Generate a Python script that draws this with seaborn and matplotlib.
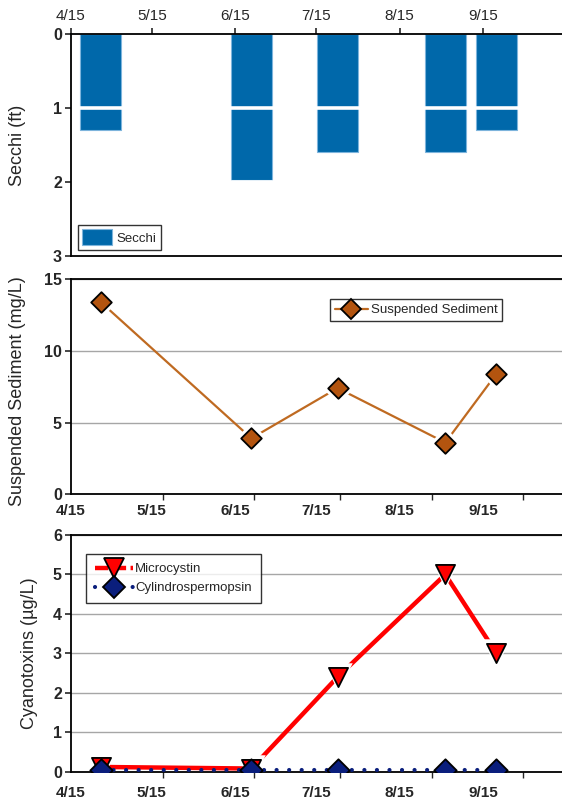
import matplotlib
matplotlib.use("Agg")
import matplotlib.pyplot as plt
from matplotlib.lines import Line2D
import seaborn as sns
import pandas as pd

# ---- data ----
sample_dates = ["4/26", "6/21", "7/23", "9/1", "9/20"]
secchi_ft = [1.3, 1.97, 1.6, 1.6, 1.3]
suspended_sediment = [13.4, 3.9, 7.4, 3.6, 8.4]
microcystin = [0.12, 0.08, 2.4, 5.0, 3.0]
cylindrospermopsin = [0.05, 0.05, 0.05, 0.05, 0.05]
month_ticks = ["4/15", "5/15", "6/15", "7/15", "8/15", "9/15"]
offset_ticks = ["5/19", "6/22", "7/24", "8/27", "9/30"]
x_start, x_end = "4/15", "10/15"
secchi_ticks = [0, 1, 2, 3]
secchi_grid = [1, 2]
sediment_ticks = [0, 5, 10, 15]
toxin_ticks = [0, 1, 2, 3, 4, 5, 6]


def to_day(s):
    d = pd.to_datetime(f"2014/{s}", format="%Y/%m/%d")
    return (d - pd.Timestamp("2014-04-15")).days


days = [to_day(s) for s in sample_dates]
major_days = [to_day(s) for s in month_ticks]
minor_days = [to_day(s) for s in offset_ticks]
x0, x1 = to_day(x_start), to_day(x_end)

df = pd.DataFrame({"day": days, "secchi": secchi_ft, "sed": suspended_sediment,
                   "micro": microcystin, "cyl": cylindrospermopsin})

sns.set_theme(style="ticks")
plt.rcParams["font.family"] = ["Liberation Sans", "DejaVu Sans"]
plt.rcParams["axes.linewidth"] = 1.2

fig = plt.figure(figsize=(5.62, 8.02), dpi=100)
L, W = 0.1263, 0.8769
ax1 = fig.add_axes([L, 0.6808, W, 0.2768])
ax2 = fig.add_axes([L, 0.3837, W, 0.2684])
ax3 = fig.add_axes([L, 0.0378, W, 0.2951])

bar_color = "#0068AA"
brown_line = "#BF6A21"
brown_fill = "#B3540F"
navy = "#0A1E7C"
red = "#FF0000"
label_fs = 13
tick_fs = 11
leg_fs = 9.5
dot_style = (0, (0.01, 3.0))

# ---- Panel 1: Secchi ----
sns.barplot(data=df, x="day", y="secchi", native_scale=True, color=bar_color,
            width=15 / 19, edgecolor="#7DB4DC", linewidth=0.8, saturation=1,
            label="Secchi", ax=ax1)
ax1.set_xlim(x0, x1)
ax1.set_ylim(3, 0)
ax1.xaxis.tick_top()
ax1.set_xticks(major_days, month_ticks)
ax1.set_yticks(secchi_ticks, [str(t) for t in secchi_ticks])
for g in secchi_grid:
    ax1.axhline(g, color="white", lw=2.6, zorder=2.2)
ax1.tick_params(axis="x", which="major", direction="out", length=4, width=1.2,
                labelsize=tick_fs, pad=4, top=True, bottom=False)
ax1.tick_params(axis="y", which="major", direction="out", length=4, width=1.2,
                labelsize=tick_fs + 0.5, pad=2.5)
for t in ax1.get_yticklabels():
    t.set_fontweight("bold")
ax1.set_xlabel("")
ax1.set_ylabel("Secchi (ft)", fontsize=label_fs)
ax1.yaxis.set_label_coords(-0.092, 0.5)
leg1 = ax1.legend(loc="lower left", bbox_to_anchor=(0.014, 0.027), fontsize=leg_fs,
                  frameon=True, fancybox=False, edgecolor="black", handlelength=2.2,
                  handleheight=1.5, borderpad=0.35, handletextpad=0.35,
                  borderaxespad=0)
leg1.get_frame().set_linewidth(1.0)

# ---- Panel 2: Suspended sediment ----
sns.lineplot(data=df, x="day", y="sed", color=brown_line, lw=1.6, ax=ax2)
sns.scatterplot(data=df, x="day", y="sed", marker="D", s=260, color="white",
                linewidth=0, ax=ax2, zorder=3)
sns.scatterplot(data=df, x="day", y="sed", marker="D", s=110, color=brown_fill,
                edgecolor="black", linewidth=1.3, ax=ax2, zorder=4)
ax2.set_xlim(x0, x1)
ax2.set_ylim(0, 15)
ax2.set_yticks(sediment_ticks, [str(t) for t in sediment_ticks])
ax2.grid(axis="y", color="#A6A6A6", lw=1.0)
ax2.set_axisbelow(True)
ax2.set_xticks(major_days, month_ticks)
ax2.set_xticks(minor_days, minor=True)
ax2.tick_params(axis="x", which="major", length=0, labelsize=tick_fs, pad=7)
ax2.tick_params(axis="x", which="minor", direction="out", length=4, width=1.0)
ax2.tick_params(axis="y", which="major", direction="out", length=4, width=1.2,
                labelsize=tick_fs + 0.5, pad=2.5)
for t in ax2.get_yticklabels() + ax2.get_xticklabels():
    t.set_fontweight("bold")
ax2.set_xlabel("")
ax2.set_ylabel("Suspended Sediment (mg/L)", fontsize=label_fs)
ax2.yaxis.set_label_coords(-0.092, 0.48)
h2 = [Line2D([], [], color=brown_line, lw=1.6, marker="D", markersize=10.5,
             markerfacecolor=brown_fill, markeredgecolor="black", markeredgewidth=1.3)]
leg2 = ax2.legend(h2, ["Suspended Sediment"], loc="upper right",
                  bbox_to_anchor=(0.8746, 0.905), fontsize=leg_fs, frameon=True,
                  fancybox=False, edgecolor="black", handlelength=2.5,
                  borderpad=0.35, handletextpad=0.2, borderaxespad=0)
leg2.get_frame().set_linewidth(1.0)

# ---- Panel 3: Cyanotoxins ----
sns.lineplot(data=df, x="day", y="micro", color=red, lw=3.2, ax=ax3, zorder=2)
sns.scatterplot(data=df, x="day", y="micro", marker="v", s=420, color="white",
                linewidth=0, ax=ax3, zorder=3)
sns.scatterplot(data=df, x="day", y="micro", marker="v", s=190, color=red,
                edgecolor="black", linewidth=1.3, ax=ax3, zorder=4)
sns.lineplot(data=df, x="day", y="cyl", color=navy, lw=3.0, ax=ax3, zorder=5)
cyl_line = ax3.lines[-1]
cyl_line.set_linestyle(dot_style)
cyl_line.set_dash_capstyle("round")
sns.scatterplot(data=df, x="day", y="cyl", marker="D", s=130, color=navy,
                edgecolor="black", linewidth=1.3, ax=ax3, zorder=6)
ax3.set_xlim(x0, x1)
ax3.set_ylim(0, 6)
ax3.set_yticks(toxin_ticks, [str(t) for t in toxin_ticks])
ax3.grid(axis="y", color="#A6A6A6", lw=1.0)
ax3.set_axisbelow(True)
ax3.set_xticks(major_days, month_ticks)
ax3.set_xticks(minor_days, minor=True)
ax3.tick_params(axis="x", which="major", length=0, labelsize=tick_fs, pad=10)
ax3.tick_params(axis="x", which="minor", direction="out", length=4, width=1.0)
ax3.tick_params(axis="y", which="major", direction="out", length=4, width=1.2,
                labelsize=tick_fs + 0.5, pad=2.5)
for t in ax3.get_yticklabels() + ax3.get_xticklabels():
    t.set_fontweight("bold")
ax3.set_xlabel("")
ax3.set_ylabel("Cyanotoxins (\u00b5g/L)", fontsize=label_fs)
ax3.yaxis.set_label_coords(-0.066, 0.5)
h3 = [Line2D([], [], color=red, lw=3.2, linestyle=(0, (3, 1)), marker="v",
             markersize=14, markerfacecolor=red, markeredgecolor="black",
             markeredgewidth=1.3),
      Line2D([], [], color=navy, lw=3.0, linestyle=dot_style,
             dash_capstyle="round", marker="D", markersize=11.5,
             markerfacecolor=navy, markeredgecolor="black", markeredgewidth=1.3)]
leg3 = ax3.legend(h3, ["Microcystin", "Cylindrospermopsin"], loc="upper left",
                  bbox_to_anchor=(0.030, 0.92), fontsize=leg_fs, frameon=True,
                  fancybox=False, edgecolor="black", handlelength=2.9,
                  borderpad=0.7, handletextpad=0.15, labelspacing=0.5,
                  borderaxespad=0)
leg3.get_frame().set_linewidth(1.0)

for ax in (ax1, ax2, ax3):
    for s in ax.spines.values():
        s.set_visible(True)
        s.set_color("black")
        s.set_linewidth(1.3)

fig.savefig("out.png", dpi=100)
